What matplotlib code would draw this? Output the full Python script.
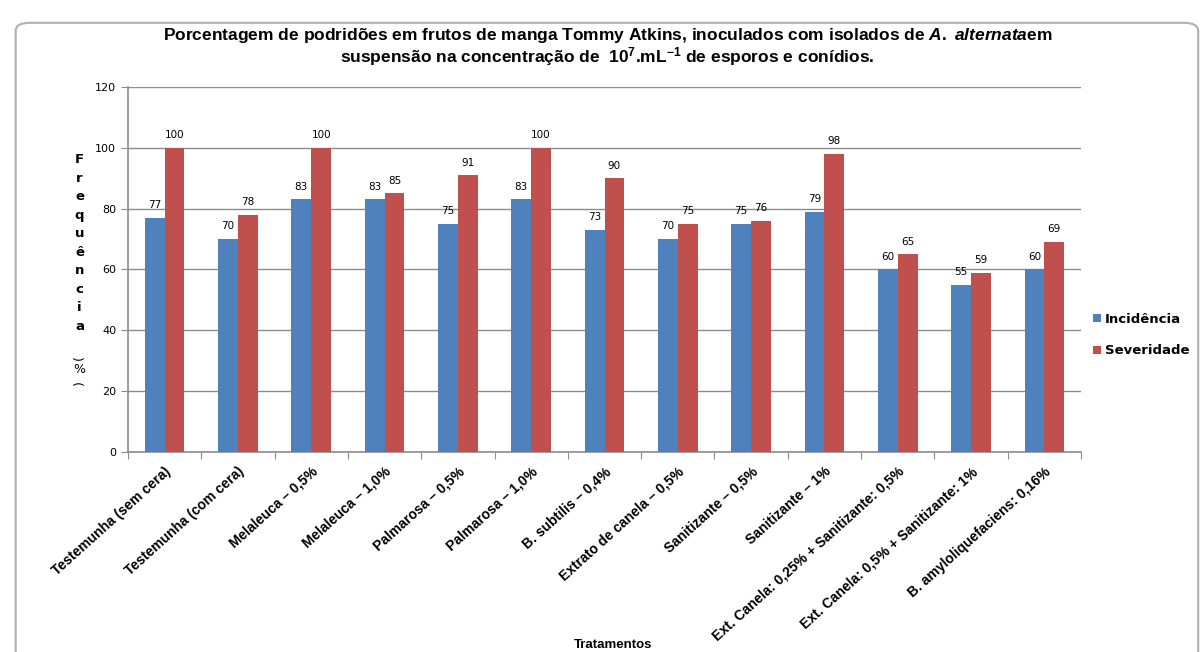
import numpy as np
import matplotlib.pyplot as plt
from matplotlib.patches import FancyBboxPatch

categories = ['Testemunha (sem cera)', 'Testemunha (com cera)', 'Melaleuca \u2013 0,5%',
              'Melaleuca \u2013 1,0%', 'Palmarosa \u2013 0,5%', 'Palmarosa \u2013 1,0%',
              'B. subtilis \u2013 0,4%', 'Extrato de canela \u2013 0,5%', 'Sanitizante \u2013 0,5%',
              'Sanitizante \u2013 1%', 'Ext. Canela: 0,25% + Sanitizante: 0,5%',
              'Ext. Canela: 0,5% + Sanitizante: 1%', 'B. amyloliquefaciens: 0,16%']
incidencia = [77, 70, 83, 83, 75, 83, 73, 70, 75, 79, 60, 55, 60]
severidade = [100, 78, 100, 85, 91, 100, 90, 75, 76, 98, 65, 59, 69]
yticks = [0, 20, 40, 60, 80, 100, 120]

blue = '#4f81bd'
red = '#c0504d'

plt.rcParams['mathtext.fontset'] = 'custom'
plt.rcParams['mathtext.rm'] = 'Liberation Sans:bold'
plt.rcParams['mathtext.it'] = 'Liberation Sans:italic:bold'

fig = plt.figure(figsize=(12.03, 6.52), dpi=100)

# chart frame like the spreadsheet object
frame = FancyBboxPatch((0.013, -0.05), 0.983, 1.015, boxstyle='round,pad=0,rounding_size=0.012',
                       transform=fig.transFigure, facecolor='white', edgecolor='#b0b0b0',
                       linewidth=1.5, zorder=-5)
fig.patches.append(frame)

ax = fig.add_axes([0.1064, 0.3067, 0.7922, 0.56])
ax.set_zorder(2)
ax.patch.set_alpha(0)
x = np.arange(len(categories))
w = 0.27
b1 = ax.bar(x - w / 2, incidencia, w, color=blue, label='Incid\u00eancia', zorder=3)
b2 = ax.bar(x + w / 2, severidade, w, color=red, label='Severidade', zorder=3)

for bars in (b1, b2):
    for rect in bars:
        h = rect.get_height()
        ax.text(rect.get_x() + rect.get_width() / 2, h + 2.5, f'{h:.0f}',
                ha='center', va='bottom', fontsize=7.5, family='DejaVu Sans')

ax.set_xlim(-0.5, len(categories) - 0.5)
ax.set_ylim(0, 120)
ax.set_yticks(yticks)
ax.set_yticklabels([str(v) for v in yticks], fontsize=8, family='DejaVu Sans')
ax.yaxis.grid(True, color='#8c8c8c', linewidth=1, zorder=0)
ax.set_axisbelow(True)
ax.set_xticks(np.arange(len(categories) + 1) - 0.5, minor=False)
ax.set_xticklabels([])
ax.set_xticks(x, minor=True)
ax.set_xticklabels(categories, minor=True, rotation=42, ha='right', rotation_mode='anchor',
                   fontsize=10, fontweight='bold', family='Liberation Sans')
ax.tick_params(axis='x', which='minor', length=0, pad=9)
ax.tick_params(axis='x', which='major', length=5, color='#8c8c8c', direction='out')
ax.tick_params(axis='y', length=5, color='#8c8c8c', direction='out')
for s in ('top', 'right'):
    ax.spines[s].set_visible(False)
for s in ('left', 'bottom'):
    ax.spines[s].set_color('#8c8c8c')
    ax.spines[s].set_linewidth(1.2)

fig.text(0.066, 0.627, 'F\nr\ne\nq\nu\n\u00ea\nn\nc\ni\na', ha='center', va='center',
         fontsize=9.5, fontweight='bold', family='DejaVu Sans', linespacing=1.55)
fig.text(0.066, 0.452, '(', ha='center', va='center', rotation=90, fontsize=9, family='DejaVu Sans')
fig.text(0.066, 0.433, '%', ha='center', va='center', fontsize=9, family='DejaVu Sans')
fig.text(0.066, 0.414, ')', ha='center', va='center', rotation=90, fontsize=9, family='DejaVu Sans')

fig.text(0.51, 0.01, 'Tratamentos', ha='center', va='center', fontsize=9.5,
         fontweight='bold', family='Liberation Sans')

fig.text(0.505, 0.945,
         'Porcentagem de podrid\u00f5es em frutos de manga Tommy Atkins, inoculados com isolados de '
         r'$\it{A.\ alternata}$em',
         ha='center', va='center', fontsize=12.5, fontweight='bold', family='Liberation Sans')
fig.text(0.505, 0.914,
         'suspens\u00e3o na concentra\u00e7\u00e3o de  10$^{7}$.mL$^{-1}$ de esporos e con\u00eddios.',
         ha='center', va='center', fontsize=12.5, fontweight='bold', family='Liberation Sans')

ax.legend(loc='center left', bbox_to_anchor=(1.0, 0.32), frameon=False, handlelength=0.6,
          handleheight=0.6, handletextpad=0.3, labelspacing=1.4,
          prop={'family': 'DejaVu Sans', 'weight': 'bold', 'size': 9.5})

fig.savefig('out.png', dpi=100)
